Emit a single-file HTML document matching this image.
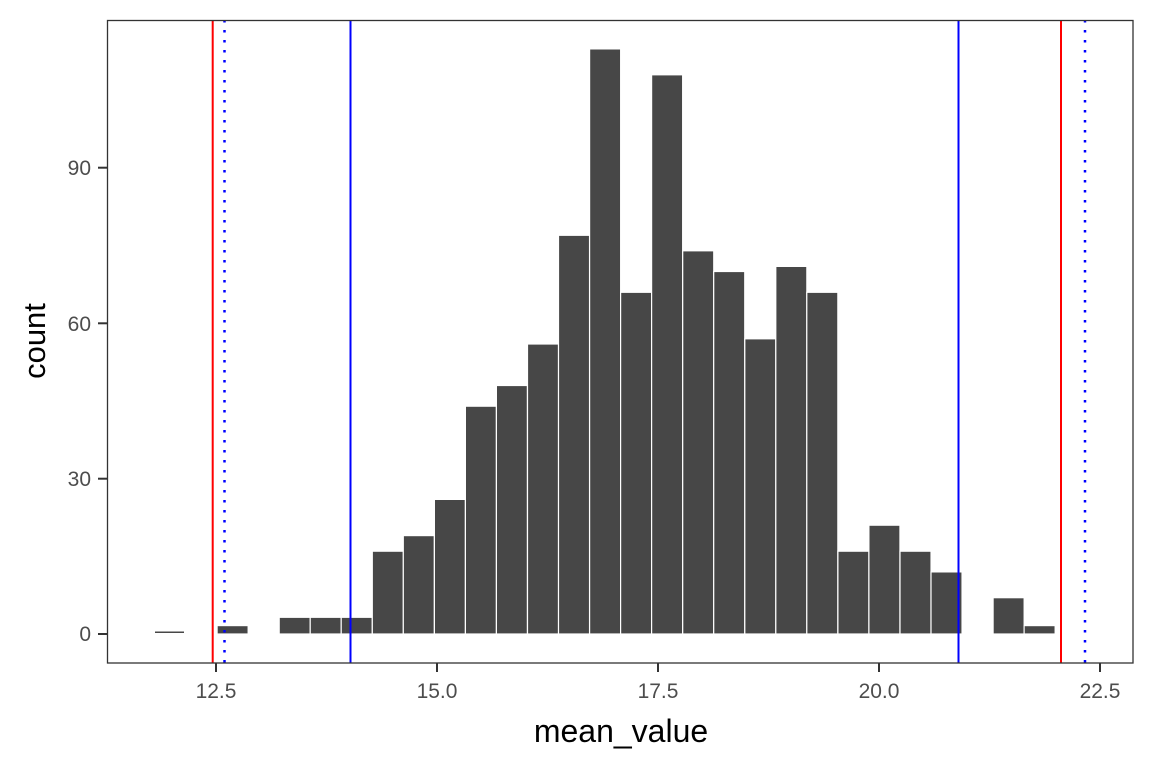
<!DOCTYPE html>
<html><head><meta charset="utf-8"><style>
html,body{margin:0;padding:0;background:#fff;}
svg{display:block;font-family:"Liberation Sans",sans-serif;}
</style></head><body>
<svg width="1152" height="768" viewBox="0 0 1152 768" xmlns="http://www.w3.org/2000/svg">
<rect width="1152" height="768" fill="#fff"/>
<g fill="#474747" stroke="#fff" stroke-width="1.2">
<rect x="155" y="631.5" width="29" height="1.5" stroke="none"/>
<rect x="217.1" y="625.6" width="31.04" height="8.4"/>
<rect x="279.2" y="617.3" width="31.04" height="16.7"/>
<rect x="310.2" y="617.3" width="31.04" height="16.7"/>
<rect x="341.2" y="617.3" width="31.04" height="16.7"/>
<rect x="372.3" y="551.2" width="31.04" height="82.8"/>
<rect x="403.3" y="535.6" width="31.04" height="98.4"/>
<rect x="434.4" y="499.4" width="31.04" height="134.6"/>
<rect x="465.4" y="406.2" width="31.04" height="227.8"/>
<rect x="496.4" y="385.5" width="31.04" height="248.5"/>
<rect x="527.5" y="344.0" width="31.04" height="290.0"/>
<rect x="558.5" y="235.3" width="31.04" height="398.7"/>
<rect x="589.6" y="48.9" width="31.04" height="585.1"/>
<rect x="620.6" y="292.3" width="31.04" height="341.7"/>
<rect x="651.6" y="74.8" width="31.04" height="559.2"/>
<rect x="682.7" y="250.8" width="31.04" height="383.2"/>
<rect x="713.7" y="271.5" width="31.04" height="362.5"/>
<rect x="744.8" y="338.8" width="31.04" height="295.2"/>
<rect x="775.8" y="266.4" width="31.04" height="367.6"/>
<rect x="806.8" y="292.3" width="31.04" height="341.7"/>
<rect x="837.9" y="551.2" width="31.04" height="82.8"/>
<rect x="868.9" y="525.2" width="31.04" height="108.8"/>
<rect x="900.0" y="551.2" width="31.04" height="82.8"/>
<rect x="931.0" y="571.9" width="31.04" height="62.1"/>
<rect x="993.1" y="597.7" width="31.04" height="36.3"/>
<rect x="1024.1" y="625.6" width="31.04" height="8.4"/>
</g>
<g stroke-width="2">
<line x1="212.7" y1="20" x2="212.7" y2="663" stroke="#ff0000"/>
<line x1="1061" y1="20" x2="1061" y2="663" stroke="#ff0000"/>
<line x1="350.5" y1="20" x2="350.5" y2="663" stroke="#0000ff"/>
<line x1="958.5" y1="20" x2="958.5" y2="663" stroke="#0000ff"/>
<line x1="224.5" y1="20" x2="224.5" y2="663" stroke="#0000ff" stroke-width="2.5" stroke-dasharray="2.5,7.5"/>
<line x1="1085" y1="20" x2="1085" y2="663" stroke="#0000ff" stroke-width="2.5" stroke-dasharray="2.5,7.5"/>
</g>
<rect x="107.5" y="20.5" width="1025.5" height="642.5" fill="none" stroke="#333" stroke-width="1.3"/>
<g stroke="#333" stroke-width="2">
<line x1="98" y1="634" x2="107" y2="634"/>
<line x1="98" y1="478.7" x2="107" y2="478.7"/>
<line x1="98" y1="323.3" x2="107" y2="323.3"/>
<line x1="98" y1="167.7" x2="107" y2="167.7"/>
<line x1="216" y1="663" x2="216" y2="672"/>
<line x1="437" y1="663" x2="437" y2="672"/>
<line x1="658" y1="663" x2="658" y2="672"/>
<line x1="879" y1="663" x2="879" y2="672"/>
<line x1="1100" y1="663" x2="1100" y2="672"/>
</g>
<g fill="#4d4d4d" font-size="21" text-anchor="end">
<text x="91" y="641">0</text>
<text x="91" y="486">30</text>
<text x="91" y="331">60</text>
<text x="91" y="175">90</text>
</g>
<g fill="#4d4d4d" font-size="21" text-anchor="middle">
<text x="216" y="698">12.5</text>
<text x="437" y="698">15.0</text>
<text x="658" y="698">17.5</text>
<text x="879" y="698">20.0</text>
<text x="1100" y="698">22.5</text>
</g>
<text x="621" y="742" font-size="32" text-anchor="middle" fill="#000">mean_value</text>
<text transform="translate(45,341) rotate(-90)" font-size="31" text-anchor="middle" fill="#000">count</text>
</svg>
</body></html>
